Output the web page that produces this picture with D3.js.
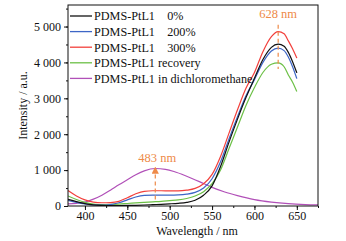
<!DOCTYPE html>
<html>
<head>
<meta charset="utf-8">
<script src="https://cdn.jsdelivr.net/npm/d3@7"></script>
<style>
  body { margin: 0; background: #fff; }
  svg text { font-family: "Liberation Serif", "Times New Roman", "DejaVu Serif", serif !important; }
</style>
</head>
<body>
<svg class="spectra" width="346" height="241"></svg>
<script>
// wavelengths (nm) for the film spectra
var filmWavelengths = [380,390,400,410,420,430,440,450,460,470,480,490,500,510,520,530,540,550,560,570,580,590,600,610,620,628,635,640,645,650];
var strain0 = [185,120,65,30,15,10,12,15,20,28,38,48,60,75,100,160,300,560,1100,1780,2420,3020,3560,4080,4420,4510,4450,4280,4020,3710];
var strain200 = [160,100,55,28,22,40,90,170,250,295,305,305,305,310,330,380,500,760,1230,1870,2490,3070,3520,4000,4320,4400,4330,4150,3880,3550];
var strain300 = [430,280,170,110,90,95,130,230,340,410,425,425,420,420,440,490,620,880,1380,2030,2680,3280,3720,4300,4720,4860,4800,4600,4380,4120];
var recovery = [280,180,100,55,40,45,55,70,85,100,115,130,150,170,210,280,400,620,1000,1600,2200,2800,3300,3720,3950,3990,3880,3650,3450,3190];

// solution spectrum
var solutionWavelengths = [380,390,400,410,420,430,440,450,460,470,483,495,505,520,535,550,565,580,600,620,640,660,675];
var solution = [60,75,110,190,300,440,590,730,870,980,1045,1020,960,830,680,520,390,290,180,110,65,40,30];

var seriesNames = ["PDMS-PtL1\u00a0\u00a0\u00a0\u00a00%", "PDMS-PtL1\u00a0\u00a0\u00a0\u00a0200%", "PDMS-PtL1\u00a0\u00a0\u00a0\u00a0300%", "PDMS-PtL1 recovery", "PDMS-PtL1 in dichloromethane"];
var seriesColors = ["#111111", "#3d66c6", "#f2403c", "#6cc046", "#b150b8"];

var xTicks = [400, 450, 500, 550, 600, 650];
var yTicks = [0, 1000, 2000, 3000, 4000, 5000];
var peakLabels = [{nm: 628, text: "628 nm"}, {nm: 483, text: "483 nm"}];

var serif = '"Liberation Serif", "Times New Roman", "DejaVu Serif", serif';

var svg = d3.select('svg.spectra');
var svgWidth = +svg.attr('width');
var svgHeight = +svg.attr('height');

var padding = {t: 5, r: 28, b: 35, l: 68};
var chartWidth = svgWidth - padding.l - padding.r;
var chartHeight = svgHeight - padding.t - padding.b;

var xScale = d3.scaleLinear().domain([380, 675]).range([0, chartWidth]);
var yScale = d3.scaleLinear().domain([0, 5600]).range([chartHeight, 0]);

var chartG = svg.append('g')
    .attr('transform', 'translate(' + [padding.l, padding.t] + ')');

svg.append('defs').append('clipPath').attr('id', 'plotClip')
  .append('rect').attr('width', chartWidth).attr('height', chartHeight);

// build series table
var series = [strain0, strain200, strain300, recovery].map(function(vals, i) {
    return {name: seriesNames[i], color: seriesColors[i],
            points: vals.map(function(v, j) { return [filmWavelengths[j], v]; })};
});
series.push({name: seriesNames[4], color: seriesColors[4],
             points: solution.map(function(v, j) { return [solutionWavelengths[j], v]; })});

var line = d3.line()
    .x(function(d) { return xScale(d[0]); })
    .y(function(d) { return yScale(d[1]); })
    .curve(d3.curveMonotoneX);

// draw purple first so film curves sit on top
var drawOrder = [4, 3, 1, 0, 2];
chartG.append('g').attr('clip-path', 'url(#plotClip)')
  .selectAll('path')
  .data(drawOrder.map(function(i) { return series[i]; }))
  .enter().append('path')
    .attr('d', function(d) { return line(d.points); })
    .attr('fill', 'none')
    .attr('stroke', function(d) { return d.color; })
    .attr('stroke-width', 1.2);

// axes with minor ticks
function minorTicks(scale, step) {
    var dom = scale.domain(), out = [];
    for (var v = Math.ceil(dom[0] / step) * step; v <= dom[1] + 1e-9; v += step) out.push(v);
    return out;
}
var fmt = function(d) { return d3.format(',')(d).replace(',', ' '); };

var xAxisG = chartG.append('g').attr('transform', 'translate(0,' + chartHeight + ')');
xAxisG.call(d3.axisBottom(xScale).tickValues(minorTicks(xScale, 25)).tickSize(2).tickFormat(''));
xAxisG.append('g').call(d3.axisBottom(xScale).tickValues(xTicks).tickSize(4).tickPadding(1));

var yAxisG = chartG.append('g');
yAxisG.call(d3.axisLeft(yScale).tickValues(minorTicks(yScale, 500)).tickSize(2).tickFormat(''));
yAxisG.append('g').call(d3.axisLeft(yScale).tickValues(yTicks).tickSize(4).tickPadding(3).tickFormat(fmt));

chartG.selectAll('.domain').remove();
chartG.selectAll('g').attr('font-family', serif);
chartG.selectAll('.tick line').attr('stroke', '#111');
chartG.selectAll('.tick text').attr('font-size', 12).attr('fill', '#111');

// frame
chartG.append('rect')
    .attr('width', chartWidth).attr('height', chartHeight)
    .attr('fill', 'none').attr('stroke', '#111').attr('stroke-width', 1);

// axis labels
svg.append('text')
    .attr('x', 197).attr('y', 235)
    .attr('text-anchor', 'middle').attr('font-size', 12).attr('fill', '#111')
    .attr('font-family', serif)
    .text('Wavelength / nm');
svg.append('text')
    .attr('transform', 'translate(27,' + (padding.t + chartHeight / 2) + ') rotate(-90)')
    .attr('text-anchor', 'middle').attr('font-size', 12).attr('fill', '#111')
    .attr('font-family', serif)
    .text('Intensity / a.u.');

// legend
var legendG = chartG.append('g').attr('transform', 'translate(2,11)');
var legendRows = legendG.selectAll('g').data(series).enter().append('g')
    .attr('transform', function(d, i) { return 'translate(0,' + (i * 15.6) + ')'; });
legendRows.append('line')
    .attr('x1', 0).attr('x2', 22).attr('y1', 0).attr('y2', 0)
    .attr('stroke', function(d) { return d.color; }).attr('stroke-width', 1.3);
legendRows.append('text')
    .attr('x', 24).attr('y', 4.3)
    .attr('font-size', 12.2).attr('fill', '#111')
    .attr('font-family', serif)
    .text(function(d) { return d.name; });

// peak annotations
var orange = '#ee8a48';
svg.append('defs').append('marker')
    .attr('id', 'arrowHead').attr('viewBox', '0 0 10 10')
    .attr('refX', 5).attr('refY', 5).attr('markerWidth', 6).attr('markerHeight', 6)
    .attr('orient', 'auto')
  .append('path').attr('d', 'M0,0 L10,5 L0,10 z').attr('fill', orange);

var p628 = peakLabels[0], p483 = peakLabels[1];
chartG.append('line')
    .attr('x1', xScale(p628.nm)).attr('x2', xScale(p628.nm))
    .attr('y1', yScale(5050)).attr('y2', yScale(3820))
    .attr('stroke', orange).attr('stroke-width', 1.2).attr('stroke-dasharray', '4,3');
chartG.append('text')
    .attr('x', xScale(p628.nm)).attr('y', 13)
    .attr('text-anchor', 'middle').attr('font-size', 12.5).attr('fill', orange)
    .attr('font-family', serif)
    .text(p628.text);

chartG.append('line')
    .attr('x1', xScale(p483.nm)).attr('x2', xScale(p483.nm))
    .attr('y1', yScale(180)).attr('y2', yScale(1000))
    .attr('stroke', orange).attr('stroke-width', 1.2).attr('stroke-dasharray', '4,3')
    .attr('marker-end', 'url(#arrowHead)');
chartG.append('text')
    .attr('x', xScale(p483.nm) + 2).attr('y', yScale(1220))
    .attr('text-anchor', 'middle').attr('font-size', 12.5).attr('fill', orange)
    .attr('font-family', serif)
    .text(p483.text);
</script>
</body>
</html>
